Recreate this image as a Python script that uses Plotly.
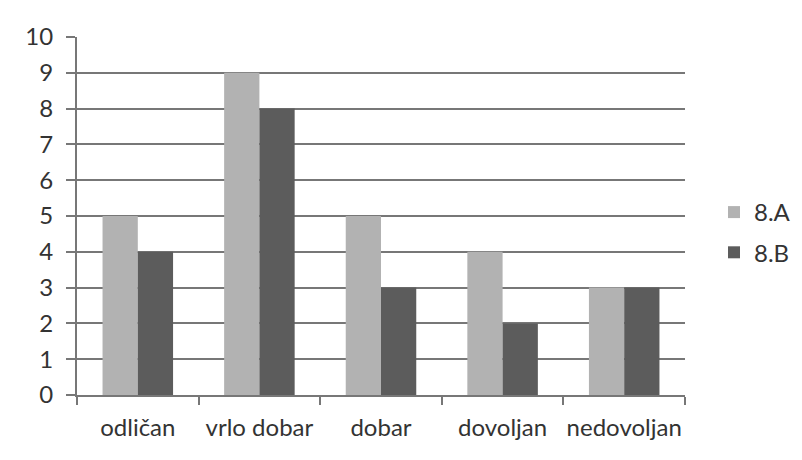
import plotly.graph_objects as go

categories = ["odličan", "vrlo dobar", "dobar", "dovoljan", "nedovoljan"]
series_a = [5, 9, 5, 4, 3]
series_b = [4, 8, 3, 2, 3]
series_names = ["8.A", "8.B"]
y_ticks = list(range(0, 11))

# page body has an 8px margin; work in page pixels and subtract it
OFF = 8
W, H = 794, 452
L, T = 77 - OFF, 37 - OFF
R = W - (685 - OFF)
B = H - (395 - OFF)
pw, ph = W - L - R, H - T - B

def px_x(x):
    return (x - OFF - L) / pw

def px_y(y):
    return (395 - y) / ph

fig = go.Figure()
fig.add_trace(go.Bar(x=categories, y=series_a, name=series_names[0], legendgroup="a",
                     marker=dict(color="#b2b2b2", line=dict(width=0))))
fig.add_trace(go.Bar(x=categories, y=series_b, name=series_names[1], legendgroup="b",
                     marker=dict(color="#5c5c5c", line=dict(width=0))))

font = "Lato, 'Open Sans', sans-serif"
fig.update_layout(
    width=W, height=H,
    margin=dict(l=L, r=R, t=T, b=B, autoexpand=False),
    paper_bgcolor="white", plot_bgcolor="white",
    barmode="group", bargap=0.42, bargroupgap=0,
    font=dict(family=font, size=24, color="#333333"),
    legend=dict(x=px_x(714), y=px_y(190), xanchor="left", yanchor="top",
                font=dict(size=24, color="#333333"), itemwidth=30,
                tracegroupgap=6, bgcolor="rgba(0,0,0,0)"),
    showlegend=True,
)
fig.update_xaxes(
    showline=True, linecolor="#777777", linewidth=2,
    ticks="outside", tickson="boundaries", ticklen=8, tickcolor="#777777", tickwidth=2,
    showgrid=False, ticklabelstandoff=10, tickangle=0, automargin=False,
    tickfont=dict(size=24),
)
fig.update_yaxes(
    range=[0, 10], tickvals=y_ticks, showline=True, linecolor="#777777", linewidth=2,
    ticks="outside", ticklen=9, tickcolor="#777777", tickwidth=2,
    showgrid=True, gridcolor="#777777", gridwidth=2, zeroline=False,
    ticklabelstandoff=8, tickfont=dict(size=24), automargin=False,
)
# outer chart border
fig.add_shape(type="rect", xref="paper", yref="paper",
              x0=px_x(7), x1=px_x(830),
              y0=px_y(480), y1=px_y(5),
              line=dict(color="#666666", width=2), layer="below")
fig.write_html("out.html")
